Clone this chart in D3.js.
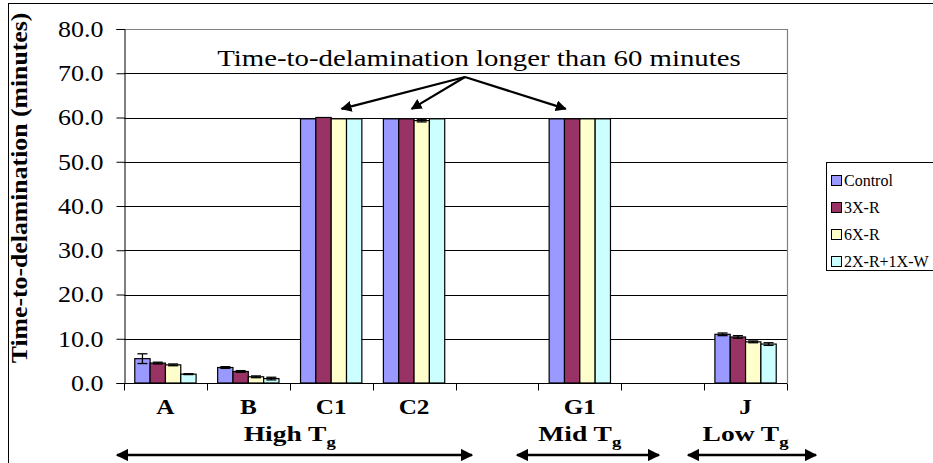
<!DOCTYPE html>
<html>
<head>
<meta charset="utf-8">
<script src="https://cdn.jsdelivr.net/npm/d3@7/dist/d3.min.js"></script>
<style>
  body { margin: 0; background: #fff; }
  text { font-family: "Liberation Serif", "Times New Roman", serif; }
</style>
</head>
<body>
<div id="chart"></div>
<script>
// categories (two blank slots in the original layout)
const categories = ["A", "B", "C1", "C2", "", "G1", "", "J"];
const seriesNames = ["Control", "3X-R", "6X-R", "2X-R+1X-W"];
const seriesColors = ["#9999FF", "#993366", "#FFFFCC", "#CCFFFF"];

// time-to-delamination (minutes), one row per series, null = no bar
const controlVals = [5.5, 3.5, 59.7, 59.7, null, 59.7, null, 11.0];
const r3Vals      = [4.5, 2.6, 60.0, 59.7, null, 59.7, null, 10.4];
const r6Vals      = [4.1, 1.4, 59.7, 59.3, null, 59.7, null, 9.3];
const r2w1Vals    = [2.0, 1.0, 59.7, 59.7, null, 59.7, null, 8.8];

// error bar half-widths
const controlErr = [1.1, 0.2, 0, 0, null, 0, null, 0.3];
const r3Err      = [0.2, 0.2, 0, 0, null, 0, null, 0.3];
const r6Err      = [0.2, 0.2, 0, 0.3, null, 0, null, 0.2];
const r2w1Err    = [0.1, 0.3, 0, 0, null, 0, null, 0.3];

const yTicks = [0, 10, 20, 30, 40, 50, 60, 70, 80];

// group labels under the axis: first/last category index
const groups = [
  { name: "High T", from: 0, to: 3 },
  { name: "Mid T", from: 5, to: 5 },
  { name: "Low T", from: 7, to: 7 }
];

const W = 933, H = 463;
const plot = { left: 124, right: 787, top: 29, bottom: 383 };

// the original picture is a bit wider than tall, so stretch text sideways
function stretch(sel, sx) {
  sel.each(function () {
    const t = d3.select(this);
    const tx = +t.attr("x") || 0, ty = +t.attr("y") || 0;
    t.attr("transform", `translate(${tx},${ty}) scale(${sx},1) translate(${-tx},${-ty})`);
  });
}

const svg = d3.select("#chart").append("svg")
  .attr("width", W).attr("height", H)
  .style("display", "block");

svg.append("rect").attr("width", W).attr("height", H).attr("fill", "#fff");
// outer chart border
svg.append("rect")
  .attr("x", 8.5).attr("y", 3.5).attr("width", 930).attr("height", 470)
  .attr("fill", "none").attr("stroke", "#000").attr("stroke-width", 1);

const x = d3.scaleBand().domain(d3.range(categories.length))
  .range([plot.left, plot.right]).paddingInner(0).paddingOuter(0);
const bw = x.bandwidth();
const xs = d3.scaleBand().domain(d3.range(seriesNames.length))
  .range([bw * 0.13, bw * 0.87]).padding(0);
const y = d3.scaleLinear().domain([0, 80]).range([plot.bottom, plot.top]);

// gridlines
svg.append("g").selectAll("line")
  .data(yTicks.filter(t => t > 0 && t < 80))
  .join("line")
  .attr("x1", plot.left).attr("x2", plot.right)
  .attr("y1", d => Math.round(y(d)) + 0.5).attr("y2", d => Math.round(y(d)) + 0.5)
  .attr("stroke", "#000").attr("stroke-width", 1);

// plot area border (grey top/right)
svg.append("path")
  .attr("d", `M${plot.left},${plot.top + 0.5}H${plot.right + 0.5}V${plot.bottom}`)
  .attr("fill", "none").attr("stroke", "#808080").attr("stroke-width", 1.2);

// y axis
const yAxis = d3.axisLeft(y).tickValues(yTicks).tickSize(8).tickPadding(13)
  .tickFormat(d3.format(".1f"));
const yg = svg.append("g").attr("transform", `translate(${plot.left + 0.5},0)`).call(yAxis);
yg.select(".domain").attr("stroke", "#000");
yg.selectAll(".tick line").attr("stroke", "#000");
yg.selectAll("text").attr("font-size", 23).attr("fill", "#000")
  .call(stretch, 1.13);

// x axis: ticks at category boundaries, labels centered
const xg = svg.append("g").attr("transform", `translate(0,${plot.bottom + 0.5})`);
xg.append("line").attr("x1", plot.left).attr("x2", plot.right)
  .attr("stroke", "#000");
xg.selectAll("line.tk").data(d3.range(categories.length + 1)).join("line")
  .attr("class", "tk")
  .attr("x1", i => Math.round(plot.left + i * bw) + 0.5)
  .attr("x2", i => Math.round(plot.left + i * bw) + 0.5)
  .attr("y1", 0).attr("y2", 7).attr("stroke", "#000");
xg.selectAll("text").data(categories).join("text")
  .attr("x", (d, i) => x(i) + bw / 2).attr("y", 31)
  .attr("text-anchor", "middle").attr("font-size", 21).attr("font-weight", "bold")
  .text(d => d)
  .call(stretch, 1.2);

// bars
const allVals = [controlVals, r3Vals, r6Vals, r2w1Vals];
const allErr = [controlErr, r3Err, r6Err, r2w1Err];
const barData = [];
allVals.forEach((vals, s) => vals.forEach((v, c) => {
  if (v != null) barData.push({ s, c, v, e: allErr[s][c] });
}));

svg.append("g").selectAll("rect").data(barData).join("rect")
  .attr("x", d => x(d.c) + xs(d.s))
  .attr("width", xs.bandwidth())
  .attr("y", d => y(d.v))
  .attr("height", d => y(0) - y(d.v))
  .attr("fill", d => seriesColors[d.s])
  .attr("stroke", "#000").attr("stroke-width", 1.2);

// error bars
const eg = svg.append("g").attr("stroke", "#000").attr("stroke-width", 1.3);
barData.filter(d => d.e > 0).forEach(d => {
  const cx = x(d.c) + xs(d.s) + xs.bandwidth() / 2;
  const y1 = y(d.v + d.e), y2 = y(d.v - d.e);
  eg.append("line").attr("x1", cx).attr("x2", cx).attr("y1", y1).attr("y2", y2);
  eg.append("line").attr("x1", cx - 5).attr("x2", cx + 5).attr("y1", y1).attr("y2", y1);
  eg.append("line").attr("x1", cx - 5).attr("x2", cx + 5).attr("y1", y2).attr("y2", y2);
});

// y axis title
svg.append("text")
  .attr("transform", `translate(27,188) rotate(-90) scale(1.12,1)`)
  .attr("text-anchor", "middle").attr("font-size", 23).attr("font-weight", "bold")
  .text("Time-to-delamination (minutes)");

// arrow markers
const defs = svg.append("defs");
defs.append("marker").attr("id", "ah").attr("viewBox", "0 0 10 10")
  .attr("refX", 9).attr("refY", 5).attr("markerWidth", 5).attr("markerHeight", 5)
  .attr("markerUnits", "strokeWidth")
  .attr("orient", "auto-start-reverse")
  .append("path").attr("d", "M0,0L10,5L0,10z").attr("fill", "#000");

// annotation
svg.append("text").attr("x", 479).attr("y", 66).attr("text-anchor", "middle")
  .attr("font-size", 24).text("Time-to-delamination longer than 60 minutes")
  .call(stretch, 1.2);
const apex = [465, 77];
const targets = [[2, 0.67], [3, 0.46], [5, 0.27]];
svg.append("g").selectAll("line").data(targets).join("line")
  .attr("x1", apex[0]).attr("y1", apex[1])
  .attr("x2", d => x(d[0]) + xs.range()[0] + d[1] * (xs.range()[1] - xs.range()[0]))
  .attr("y2", y(59.7) - 10)
  .attr("stroke", "#000").attr("stroke-width", 2.2)
  .attr("marker-end", "url(#ah)");

// group labels with double-headed arrows
const groupArrows = [[117, 472], [517, 659], [688, 816]];
groups.forEach((g, i) => {
  const cx = (x(g.from) + x(g.to) + bw) / 2;
  const t = svg.append("text").attr("x", cx).attr("y", 441)
    .attr("text-anchor", "middle").attr("font-size", 22).attr("font-weight", "bold");
  t.append("tspan").text(g.name);
  t.append("tspan").attr("font-size", 15).attr("dy", 6).text("g");
  stretch(t, 1.25);
  svg.append("line")
    .attr("x1", groupArrows[i][0]).attr("x2", groupArrows[i][1])
    .attr("y1", 455).attr("y2", 455)
    .attr("stroke", "#000").attr("stroke-width", 2.5)
    .attr("marker-start", "url(#ah)").attr("marker-end", "url(#ah)");
});

// legend
const lg = svg.append("g");
lg.append("rect").attr("x", 826.5).attr("y", 162.5).attr("width", 120).attr("height", 108)
  .attr("fill", "#fff").attr("stroke", "#000");
const items = lg.selectAll("g.item").data(seriesNames).join("g").attr("class", "item")
  .attr("transform", (d, i) => `translate(831,${181 + i * 27})`);
items.append("rect").attr("x", 0.5).attr("y", -5.5).attr("width", 10).attr("height", 10)
  .attr("fill", (d, i) => seriesColors[i]).attr("stroke", "#000");
items.append("text").attr("x", 13).attr("y", 5).attr("font-size", 16).text(d => d);
</script>
</body>
</html>
